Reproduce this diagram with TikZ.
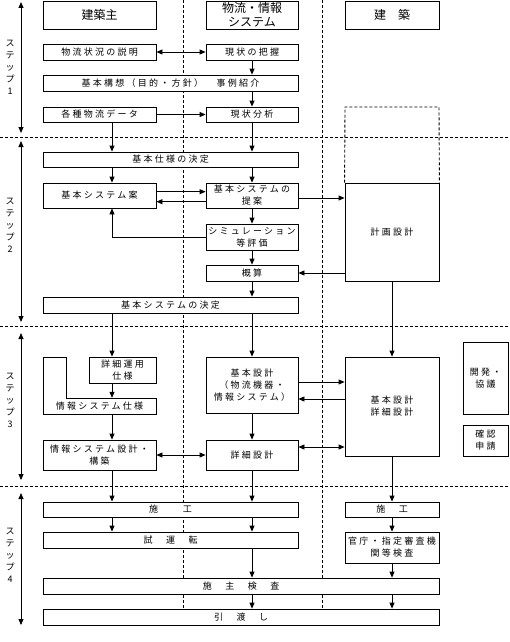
\documentclass[tikz,border=0pt]{standalone}
\usepackage{fontspec}
\newfontfamily\jp[LetterSpace=25]{Noto Sans CJK JP}
\newfontfamily\jph{Noto Sans CJK JP}
\usetikzlibrary{arrows.meta,shadows}
\begin{document}
\begin{tikzpicture}[x=1pt,y=-1pt,
  boxtext/.style={inner sep=0pt, align=center, font=\jp\fontsize{9}{12}\selectfont},
  box/.style={boxtext, draw, line width=0.8pt, fill=white,
    general shadow={fill=black, shadow xshift=0.8pt, shadow yshift=-0.8pt}},
  head/.style={box, font=\jph\fontsize{12}{14}\selectfont},
  cA/.style={minimum width=113pt},
  cB/.style={minimum width=92pt},
  cC/.style={minimum width=94pt},
  wAB/.style={minimum width=255pt},
  wAC/.style={minimum width=396pt},
  conn/.style={line width=0.8pt, -{Triangle[length=6pt,width=5pt]}},
  dconn/.style={line width=0.8pt, {Triangle[length=6pt,width=5pt]}-{Triangle[length=6pt,width=5pt]}},
  plain/.style={line width=0.8pt},
  sep/.style={line width=1pt, dash pattern=on 3pt off 2pt},
  steplabel/.style={inner sep=0pt, align=center, font=\jph\fontsize{9}{12}\selectfont},
]
\useasboundingbox (0,0) rectangle (510,642);

% separators
\draw[sep] (0,137) -- (510,137);
\draw[sep] (0,326) -- (510,326);
\draw[sep] (0,486) -- (510,486);
\draw[sep] (183,0) -- (183,609);
\draw[sep] (322,0) -- (322,609);

% column axis for connectors in first column
\coordinate (c1) at (112,0);

% step arrows and labels
\coordinate (t1a) at (21,2);   \coordinate (t1b) at (21,133);
\coordinate (t2a) at (21,141); \coordinate (t2b) at (21,322);
\coordinate (t3a) at (21,333); \coordinate (t3b) at (21,480);
\coordinate (t4a) at (21,493); \coordinate (t4b) at (21,625);
\draw[dconn] (t1a) -- (t1b);
\draw[dconn] (t2a) -- (t2b);
\draw[dconn] (t3a) -- (t3b);
\draw[dconn] (t4a) -- (t4b);
\node[steplabel] (l1) at (10,67) {ス\\テ\\ッ\\プ\\1};
\node[steplabel] (l2) at (10,225) {ス\\テ\\ッ\\プ\\2};
\node[steplabel] (l3) at (10,400) {ス\\テ\\ッ\\プ\\3};
\node[steplabel] (l4) at (10,555) {ス\\テ\\ッ\\プ\\4};

% headers
\node[head, cA, minimum height=28pt] (h1) at (99.5,15) {建築主};
\node[head, cB, minimum height=28pt] (h2) at (252,15) {物流・情報\\システム};
\node[head, cC, minimum height=28pt] (h3) at (392,15) {建　築};

% step 1
\node[box, cA, minimum height=16pt] (s1a) at (99.5,52) {物流状況の説明};
\node[box, cB, minimum height=16pt] (s1b) at (252,52) {現状の把握};
\node[box, wAB, minimum height=16pt] (s1c) at (170.5,83) {基本構想（目的・方針）　事例紹介};
\node[box, cA, minimum height=15pt] (s1d) at (99.5,114.5) {各種物流データ};
\node[box, cB, minimum height=15pt] (s1e) at (252,114.5) {現状分析};

% step 2
\node[box, wAB, minimum height=15pt] (s2a) at (170.5,159.5) {基本仕様の決定};
\node[box, cA, minimum height=25pt] (s2b) at (99.5,195.5) {基本システム案};
\node[box, cB, minimum height=25pt] (s2c) at (252,195.5) {基本システムの\\提案};
\node[box, cC, minimum height=98pt] (s2d) at (392,232) {計画設計};
\node[box, cB, minimum height=26pt] (s2e) at (252,237) {シミュレーション\\等評価};
\node[box, cB, minimum height=16pt] (s2f) at (252,273) {概算};
\node[box, wAB, minimum height=16pt] (s2g) at (170.5,305) {基本システムの決定};
\draw[line width=0.9pt, dash pattern=on 3pt off 2pt] (s2d.north west) -- (345,107) -- (439,107) -- (s2d.north east);

% step 3
\node[box, minimum width=67pt, minimum height=26pt] (s3a) at (122.5,370) {詳細運用\\仕様};
\draw[line width=0.8pt, fill=white, general shadow={fill=black, shadow xshift=0.8pt, shadow yshift=-0.8pt}]
  (43,357) -- (66,357) -- (66,398) -- (156,398) -- (156,414) -- (43,414) -- cycle;
\node[boxtext, cA, minimum height=16pt] (s3b) at (99.5,406) {情報システム仕様};
\node[box, cA, minimum height=30pt] (s3c) at (99.5,455) {情報システム設計・\\構築};
\node[box, cB, minimum height=56pt] (s3d) at (252,385) {基本設計\\（物流機器・\\情報システム）};
\node[box, cB, minimum height=30pt] (s3e) at (252,455) {詳細設計};
\node[box, cC, minimum height=99pt] (s3f) at (392,406.5) {基本設計\\詳細設計};
\node[box, minimum width=45pt, minimum height=72pt] (s3g) at (485.5,378) {開発・\\協議};
\node[box, minimum width=45pt, minimum height=31pt] (s3h) at (485.5,440.5) {確認\\申請};

% step 4
\node[box, wAB, minimum height=15pt] (s4a) at (170.5,509.5) {施　　工};
\node[box, cC, minimum height=15pt] (s4b) at (392,509.5) {施　工};
\node[box, wAB, minimum height=16pt] (s4c) at (170.5,540) {試　運　転};
\node[box, cC, minimum height=31pt] (s4d) at (392,547.5) {官庁・指定審査機\\関等検査};
\node[box, wAC, minimum height=16pt] (s4e) at (241,586) {施　主　検　査};
\node[box, wAC, minimum height=16pt] (s4f) at (241,617) {引　渡　し};

% connectors step 1
\draw[dconn] (s1a.east) -- (s1b.west);
\draw[conn] (s1b.south) -- (s1b.south |- s1c.north);
\draw[conn] (s1e.north |- s1c.south) -- (s1e.north);
\draw[conn] (s1d.east) -- (s1e.west);
\draw[conn] (s1d.south -| c1) -- (s2a.north -| c1);
\draw[conn] (s1e.south) -- (s1e.south |- s2a.north);

% connectors step 2
\draw[conn] (s2a.south -| c1) -- (s2b.north -| c1);
\draw[conn] (s2a.south -| s2c.north) -- (s2c.north);
\draw[conn] ([yshift=3.8pt]s2b.east) -- ([yshift=3.8pt]s2c.west);
\draw[conn] ([yshift=-6.2pt]s2c.west) -- ([yshift=-6.2pt]s2b.east);
\draw[conn] ([yshift=-2.5pt]s2c.east) -- ([yshift=-2.5pt]s2c.east -| s2d.west);
\draw[conn] (s2c.south) -- (s2e.north);
\draw[conn] (s2e.west) -| (s2b.south -| c1);
\draw[conn] (s2e.south) -- (s2f.north);
\draw[conn] (s2f.east -| s2d.west) -- (s2f.east);
\draw[conn] (s2f.south) -- (s2f.south |- s2g.north);

% connectors step 3
\draw[conn] (s2g.south -| c1) -- (s3a.north -| c1);
\draw[conn] (s2g.south -| s3d.north) -- (s3d.north);
\draw[conn] (s2d.south) -- (s3f.north);
\draw[conn] (s3a.south -| c1) -- (s3b.north -| c1);
\draw[conn] (s3b.south -| c1) -- (s3c.north -| c1);
\draw[dconn] (s3c.east) -- (s3e.west);
\draw[conn] ([yshift=3pt]s3d.east) -- ([yshift=3pt]s3d.east -| s3f.west);
\draw[conn] ([yshift=-14pt]s3d.east -| s3f.west) -- ([yshift=-14pt]s3d.east);
\draw[conn] (s3d.south) -- (s3e.north);
\draw[dconn] ([yshift=8pt]s3e.east) -- ([yshift=8pt]s3e.east -| s3f.west);

% connectors step 4
\draw[conn] (s3c.south -| c1) -- (s4a.north -| c1);
\draw[conn] (s3e.south) -- (s3e.south |- s4a.north);
\draw[conn] (s3f.south) -- (s4b.north);
\draw[conn] (s4a.south -| c1) -- (s4c.north -| c1);
\draw[conn] (s4a.south -| s3e.south) -- (s4c.north -| s3e.south);
\draw[conn] (s4b.south) -- (s4d.north);
\draw[conn] (s4c.south -| s3e.south) -- (s4e.north -| s3e.south);
\draw[conn] (s4d.south) -- (s4e.north -| s4d.south);
\draw[conn] (s4e.south -| s3e.south) -- (s4f.north -| s3e.south);
\draw[conn] (s4e.south -| s4d.south) -- (s4f.north -| s4d.south);
\end{tikzpicture}
\end{document}
